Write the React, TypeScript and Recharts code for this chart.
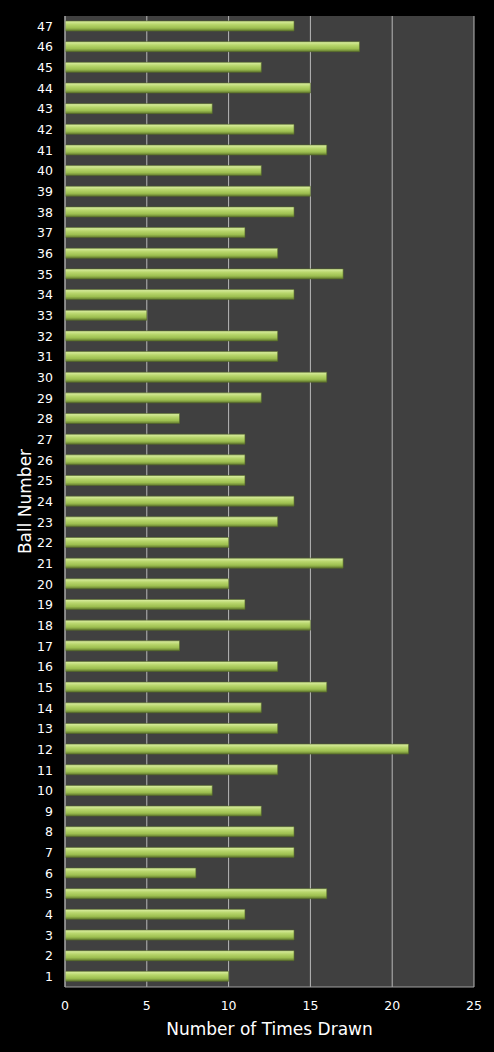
import { Bar, BarChart, CartesianGrid, XAxis, YAxis } from "recharts";

// Ball numbers 1..47 and how often each was drawn
const balls = Array.from({ length: 47 }, (_, i) => String(i + 1));
const timesDrawn = [
  10, 14, 14, 11, 16, 8, 14, 14, 12, 9,
  13, 21, 13, 12, 16, 13, 7, 15, 11, 10,
  17, 10, 13, 14, 11, 11, 11, 7, 12, 16,
  13, 13, 5, 14, 17, 13, 11, 14, 15, 12,
  16, 14, 9, 15, 12, 18, 14,
];
const xTicks = [0, 5, 10, 15, 20, 25];

// top row of the chart is ball 47
const data = balls.map((ball, i) => ({ ball, drawn: timesDrawn[i] })).reverse();

const font = "DejaVu Sans, Verdana, sans-serif";
const axisFont = { fontFamily: font, fontSize: 12.5, fill: "#ffffff" };

export default function App() {
  return (
    <div style={{ position: "absolute", top: 0, left: 0, width: 494, height: 1052, background: "#000" }}>
      <BarChart
        width={494}
        height={1052}
        data={data}
        layout="vertical"
        margin={{ top: 16, right: 20, bottom: 15, left: 20 }}
        barSize={10}
      >
        <defs>
          <linearGradient id="barFill" x1="0" y1="0" x2="0" y2="1">
            <stop offset="0%" stopColor="#dcefa4" />
            <stop offset="35%" stopColor="#b8d66c" />
            <stop offset="70%" stopColor="#9dbf50" />
            <stop offset="100%" stopColor="#62792e" />
          </linearGradient>
        </defs>
        <CartesianGrid horizontal={false} fill="#404040" stroke="#b8b8b8" strokeWidth={1} />
        <XAxis
          type="number"
          domain={[0, 25]}
          ticks={xTicks}
          height={50}
          tick={axisFont}
          tickLine={false}
          tickMargin={8}
          axisLine={{ stroke: "#a0a0a0" }}
          label={{
            value: "Number of Times Drawn",
            position: "insideBottom",
            offset: 2,
            style: { fontFamily: font, fontSize: 17, fill: "#ffffff" },
          }}
        />
        <YAxis
          type="category"
          dataKey="ball"
          width={45}
          interval={0}
          tick={axisFont}
          tickLine={false}
          tickMargin={6}
          axisLine={{ stroke: "#a0a0a0" }}
          label={{
            value: "Ball Number",
            angle: -90,
            position: "insideLeft",
            offset: 5,
            style: { textAnchor: "middle", fontFamily: font, fontSize: 17, fill: "#ffffff" },
          }}
        />
        <Bar
          dataKey="drawn"
          fill="url(#barFill)"
          stroke="#55692a"
          strokeWidth={0.6}
          isAnimationActive={false}
        />
      </BarChart>
    </div>
  );
}
